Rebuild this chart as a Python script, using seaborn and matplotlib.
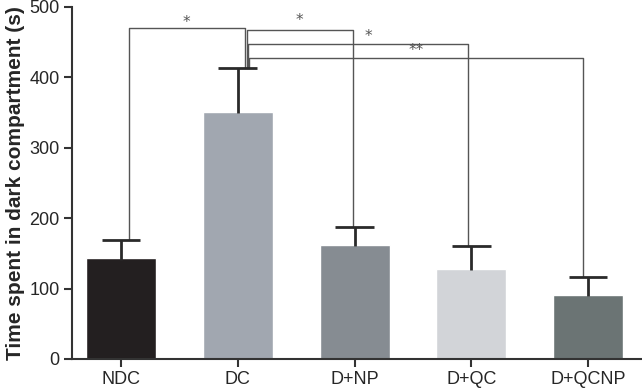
import matplotlib
matplotlib.use("Agg")
import matplotlib.pyplot as plt
import seaborn as sns
import pandas as pd
import numpy as np

groups = ["NDC", "DC", "D+NP", "D+QC", "D+QCNP"]
means = [143, 351, 162, 128, 91]
upper = [169, 413, 188, 160, 116]
colors = ["#231f20", "#a1a7b0", "#868c92", "#d2d4d8", "#6b7474"]

# significance brackets: (left x, right x, height, left bottom, right bottom, label, label x, label y)
brackets = [
    (0.07, 1.066, 470, 169, 413, "*", 0.56, 468),
    (1.077, 1.99, 467, 413, 188, "*", 1.53, 470),
    (1.085, 2.97, 448, 413, 160, "*", 2.12, 448),
    (1.10, 3.96, 428, 413, 116, "**", 2.53, 428),
]

sns.set_style("ticks")
plt.rcParams["font.family"] = ["Liberation Sans", "DejaVu Sans"]

fig = plt.figure(figsize=(6.42, 3.88), dpi=100)
ax = fig.add_axes([0.112, 0.075, 0.886, 0.907])

df = pd.DataFrame({"group": groups, "mean": means})
sns.barplot(data=df, x="group", y="mean", hue="group", palette=colors,
            width=0.6, errorbar=None, legend=False, ax=ax, saturation=1)

xs = np.arange(len(groups))
ax.vlines(xs, np.array(means) - 2, upper, color="#2a2a2a", lw=2, zorder=5)
ax.hlines(upper, xs - 0.165, xs + 0.165, color="#2a2a2a", lw=2, zorder=5)

for lx, rx, h, lb, rb, lab, tx, ty in brackets:
    ax.plot([lx, lx, rx, rx], [lb, h, h, rb], color="#555555", lw=1, zorder=4)
    ax.text(tx, ty, lab, ha="center", va="bottom", fontsize=11, color="#555555",
            family="DejaVu Sans")

ax.set_xlim(-0.42, 4.45)
ax.set_ylim(0, 500)
ax.set_yticks([0, 100, 200, 300, 400, 500])
ax.set_xlabel("")
ax.set_ylabel("Time spent in dark compartment (s)", fontsize=15, fontweight="bold", labelpad=3)
ax.tick_params(axis="both", labelsize=13, length=6, width=1.5, color="#333333", direction="out", pad=3)
for s in ["left", "bottom"]:
    ax.spines[s].set_linewidth(1.5)
    ax.spines[s].set_color("#333333")
sns.despine(ax=ax)

fig.savefig("out.png", dpi=100)
